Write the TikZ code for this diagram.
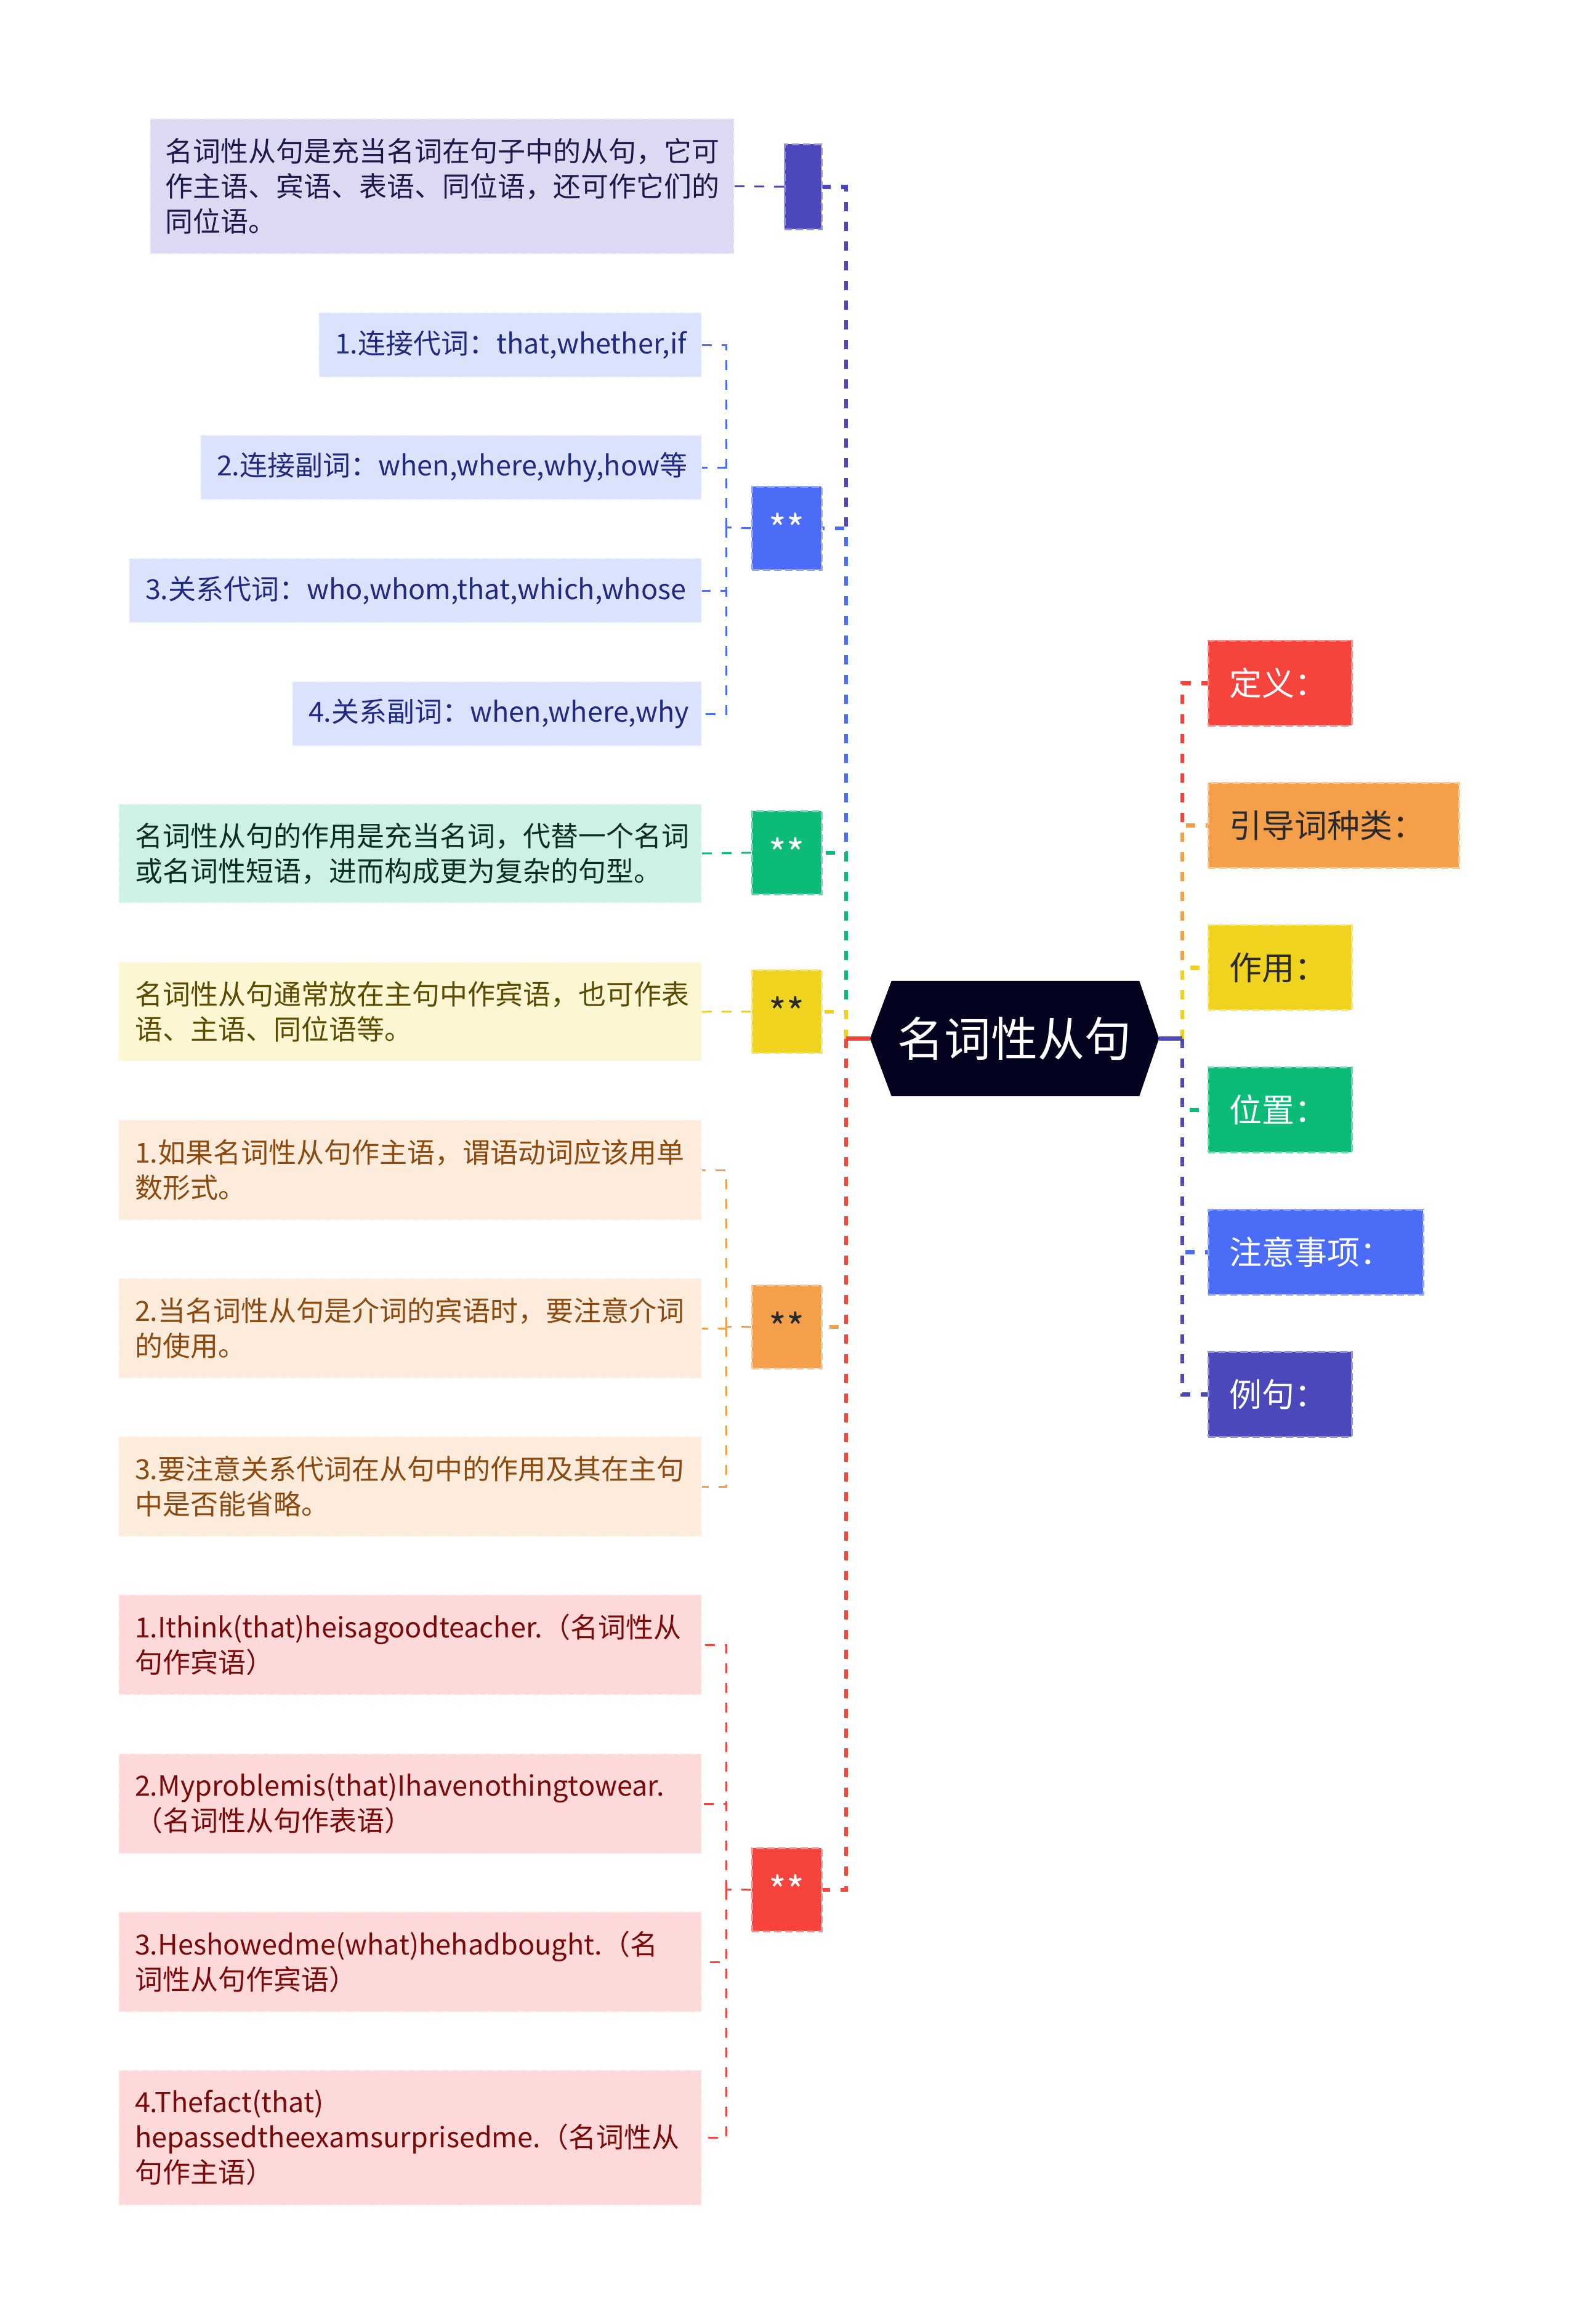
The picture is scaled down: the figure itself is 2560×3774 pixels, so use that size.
\documentclass[tikz,border=0pt]{standalone}
\usepackage{fontspec}
\setmainfont{Noto Sans CJK SC}
\usetikzlibrary{backgrounds}
\definecolor{cIndigo}{HTML}{4B48BC}
\definecolor{cBlue}{HTML}{4A6CF7}
\definecolor{cGreen}{HTML}{0CBB78}
\definecolor{cYellow}{HTML}{F0D31F}
\definecolor{cOrange}{HTML}{F4A04A}
\definecolor{cRed}{HTML}{F6433C}
\definecolor{cNavy}{HTML}{03031F}
\definecolor{fA}{HTML}{DCDAF3}
\definecolor{fB}{HTML}{DAE2FC}
\definecolor{fC}{HTML}{CDF1E2}
\definecolor{fD}{HTML}{FCF6D2}
\definecolor{fE}{HTML}{FDEBDB}
\definecolor{fF}{HTML}{FDD9D9}
\definecolor{tA}{HTML}{1C1A4A}
\definecolor{tB}{HTML}{1F2A80}
\definecolor{tC}{HTML}{0F2E22}
\definecolor{tD}{HTML}{5A4B00}
\definecolor{tE}{HTML}{8A4A10}
\definecolor{tF}{HTML}{7A0A0A}
\definecolor{tDark}{HTML}{2A2A2A}
\tikzset{
  catbox/.style={anchor=north west, minimum height=138pt, inner xsep=34pt, inner ysep=0pt,
    font=\fontsize{53}{64}\selectfont, align=left, fill=#1, draw=#1!60!white,
    line width=2.5pt, dash pattern=on 12pt off 6pt},
  starbox/.style={anchor=north west, minimum width=113pt, minimum height=135pt, inner sep=0pt,
    font=\fontsize{62}{62}\selectfont, fill=#1, draw=#1!60!white,
    line width=2.5pt, dash pattern=on 12pt off 6pt},
  childbox/.style={anchor=north west, inner xsep=26pt, inner ysep=0pt,
    font=\fontsize{45}{57}\selectfont, align=left, fill=#1, draw=white!60!#1,
    line width=2pt, dash pattern=on 12pt off 6pt},
  mainline/.style={line width=6.5pt, draw=#1, dash pattern=on 15pt off 17pt},
  mainstub/.style={line width=6.5pt, draw=#1},
  subline/.style={line width=3pt, draw=#1, dash pattern=on 16pt off 16pt}
}
\begin{document}
\begin{tikzpicture}[x=1pt,y=-1pt]
\useasboundingbox (0,0) rectangle (2560,3774);

% central node
\node[font=\fontsize{76}{76}\selectfont, text=white, minimum width=469pt, minimum height=187pt, inner sep=0pt] (c) at (1647.5,1686.5) {名词性从句};
\begin{scope}[on background layer]
  \fill[white] (0,0) rectangle (2560,3774);
  \fill[cNavy] (c.west) -- ([xshift=35pt]c.north west) -- ([xshift=-32pt]c.north east) -- (c.east)
     -- ([xshift=-32pt]c.south east) -- ([xshift=35pt]c.south west) -- cycle;
\end{scope}

% right category boxes
\node[catbox=cRed, text width=165pt, text=white] (r1) at (1961,1039) {定义：};
\node[catbox=cOrange, text width=339pt, text=tDark] (r2) at (1961,1270) {引导词种类：};
\node[catbox=cYellow, text width=165pt, text=tDark] (r3) at (1961,1501) {作用：};
\node[catbox=cGreen, text width=165pt, text=white] (r4) at (1961,1732) {位置：};
\node[catbox=cBlue, text width=281pt, text=white] (r5) at (1961,1963) {注意事项：};
\node[catbox=cIndigo, text width=165pt, text=white] (r6) at (1961,2194) {例句：};

% left star boxes
\node[starbox=cIndigo, minimum width=60pt, minimum height=138pt] (L1) at (1273,233) {};
\node[starbox=cBlue, text=white] (L2) at (1220,789) {**};
\node[starbox=cGreen, text=white] (L3) at (1220,1316) {**};
\node[starbox=cYellow, text=tDark] (L4) at (1220,1574) {**};
\node[starbox=cOrange, text=tDark] (L5) at (1220,2086) {**};
\node[starbox=cRed, text=white] (L6) at (1220,3000) {**};

% detail boxes
\node[childbox=fA, text=tA, inner xsep=24pt, text width=900pt, minimum height=219pt] (A) at (243,192)
  {名词性从句是充当名词在句子中的从句，它可\\作主语、宾语、表语、同位语，还可作它们的\\同位语。};
\node[childbox=fB, text=tB, text width=569pt, minimum height=104pt] (B1) at (517,507) {1.连接代词：that,whether,if};
\node[childbox=fB, text=tB, text width=761pt, minimum height=104pt] (B2) at (325,706) {2.连接副词：when,where,why,how等};
\node[childbox=fB, text=tB, text width=877pt, minimum height=104pt] (B3) at (209,906) {3.关系代词：who,whom,that,which,whose};
\node[childbox=fB, text=tB, text width=612pt, minimum height=104pt] (B4) at (474,1106) {4.关系副词：when,where,why};
\node[childbox=fC, text=tC, text width=894pt, minimum height=160pt] (C) at (192,1305)
  {名词性从句的作用是充当名词，代替一个名词\\或名词性短语，进而构成更为复杂的句型。};
\node[childbox=fD, text=tD, text width=894pt, minimum height=160pt] (D) at (192,1562)
  {名词性从句通常放在主句中作宾语，也可作表\\语、主语、同位语等。};
\node[childbox=fE, text=tE, text width=894pt, minimum height=162pt] (E1) at (192,1818)
  {1.如果名词性从句作主语，谓语动词应该用单\\数形式。};
\node[childbox=fE, text=tE, text width=894pt, minimum height=162pt] (E2) at (192,2075)
  {2.当名词性从句是介词的宾语时，要注意介词\\的使用。};
\node[childbox=fE, text=tE, text width=894pt, minimum height=162pt] (E3) at (192,2332)
  {3.要注意关系代词在从句中的作用及其在主句\\中是否能省略。};
\node[childbox=fF, text=tF, text width=894pt, minimum height=162pt] (F1) at (192,2589)
  {1.Ithink(that)heisagoodteacher.（名词性从\\句作宾语）};
\node[childbox=fF, text=tF, text width=894pt, minimum height=162pt] (F2) at (192,2847)
  {2.Myproblemis(that)Ihavenothingtowear.\\（名词性从句作表语）};
\node[childbox=fF, text=tF, text width=894pt, minimum height=162pt] (F3) at (192,3104)
  {3.Heshowedme(what)hehadbought.（名\\词性从句作宾语）};
\node[childbox=fF, text=tF, text width=894pt, minimum height=219pt] (F4) at (192,3361)
  {4.Thefact(that)\\hepassedtheexamsurprisedme.（名词性从\\句作主语）};

% junction points
\coordinate (lj) at (1374,1686.5);
\coordinate (rj) at (1920,1686.5);
\coordinate (bj) at (1179,856.5);
\coordinate (ej) at (1179,2154.5);
\coordinate (fj) at (1179,3068.5);

% right connectors
\draw[mainline=cRed] (rj) |- (r1.west);
\draw[mainline=cOrange] (rj) |- (r2.west);
\draw[mainline=cYellow] (rj) |- (r3.west);
\draw[mainline=cGreen] (rj) |- (r4.west);
\draw[mainline=cBlue] (rj) |- (r5.west);
\draw[mainline=cIndigo] (rj) |- (r6.west);
\draw[mainstub=cIndigo] (c.east) -- (rj);

% left main connectors
\draw[mainline=cIndigo] (lj) |- (L1.east);
\draw[mainline=cBlue] (lj) |- (L2.east);
\draw[mainline=cGreen] (lj) |- (L3.east);
\draw[mainline=cYellow] (lj) |- (L4.east);
\draw[mainline=cOrange] (lj) |- (L5.east);
\draw[mainline=cRed] (lj) |- (L6.east);
\draw[mainstub=cRed] (c.west) -- (lj);

% sub connectors
\draw[subline=cIndigo] (L1.west) -- (A.east);
\draw[subline=cBlue] (L2.west) -- (bj);
\draw[subline=cBlue] (bj) |- (B1.east);
\draw[subline=cBlue] (bj) |- (B2.east);
\draw[subline=cBlue] (bj) |- (B3.east);
\draw[subline=cBlue] (bj) |- (B4.east);
\draw[subline=cGreen] (L3.west) -- (C.east);
\draw[subline=cYellow] (L4.west) -- (D.east);
\draw[subline=cOrange] (L5.west) -- (ej);
\draw[subline=cOrange] (ej) |- (E1.east);
\draw[subline=cOrange] (ej) |- (E2.east);
\draw[subline=cOrange] (ej) |- (E3.east);
\draw[subline=cRed] (L6.west) -- (fj);
\draw[subline=cRed] (fj) |- (F1.east);
\draw[subline=cRed] (fj) |- (F2.east);
\draw[subline=cRed] (fj) |- (F3.east);
\draw[subline=cRed] (fj) |- (F4.east);
\end{tikzpicture}
\end{document}
